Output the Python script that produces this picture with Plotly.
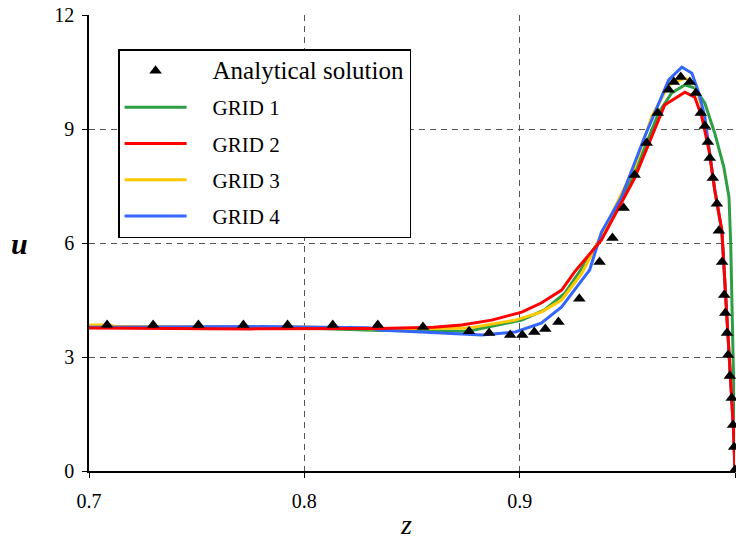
import plotly.graph_objects as go

# Analytical solution (triangles)
z_exact = [0.7084, 0.7298, 0.7508, 0.7717, 0.7922, 0.8132, 0.8341, 0.8551, 0.8765, 0.8858,
           0.8956, 0.9012, 0.9068, 0.9119, 0.9180, 0.9277, 0.9371, 0.9431, 0.9483, 0.9534,
           0.9590, 0.9641, 0.9692, 0.9716, 0.9748, 0.9790, 0.9818, 0.9841, 0.9860, 0.9874,
           0.9883, 0.9897, 0.9916, 0.9925, 0.9940, 0.9950, 0.9955, 0.9963, 0.9968, 0.9976,
           0.9985, 0.9991, 0.9996, 1.0]
u_exact = [3.84, 3.84, 3.84, 3.84, 3.84, 3.84, 3.84, 3.79, 3.68, 3.63,
           3.58, 3.58, 3.66, 3.74, 3.92, 4.53, 5.50, 6.13, 6.92, 7.79,
           8.63, 9.42, 10.03, 10.24, 10.37, 10.24, 9.95, 9.42, 9.08, 8.66,
           8.24, 7.71, 7.03, 6.32, 5.50, 4.63, 4.16, 3.63, 3.05, 2.50,
           1.92, 1.21, 0.63, 0.03]

# GRID 1 (green)
z_g1 = [0.70, 0.80, 0.835, 0.876, 0.901, 0.9115, 0.921, 0.9283, 0.938, 0.9534, 0.9645,
        0.9706, 0.9767, 0.9813, 0.986, 0.9906, 0.9948, 0.9972, 0.998, 0.9985, 0.999, 0.9995, 1.0]
u_g1 = [3.78, 3.76, 3.70, 3.68, 3.97, 4.24, 4.68, 5.29, 6.16, 7.84, 9.42,
        9.95, 10.16, 10.08, 9.68, 8.89, 8.00, 7.21, 6.00, 4.90, 3.70, 1.95, 0.0]

# GRID 2 (red)
z_g2 = [0.70, 0.775, 0.835, 0.86, 0.873, 0.887, 0.901, 0.910, 0.9195, 0.9255, 0.938,
        0.9534, 0.9673, 0.9767, 0.9813, 0.9846, 0.9879, 0.9906, 0.9939, 0.9948, 0.9965,
        0.998, 0.9993, 1.0]
u_g2 = [3.76, 3.74, 3.75, 3.78, 3.84, 3.97, 4.18, 4.42, 4.76, 5.24, 6.08,
        7.71, 9.63, 9.97, 9.84, 9.32, 8.45, 7.39, 6.34, 5.47, 3.71,
        2.39, 1.08, 0.0]

# GRID 3 (yellow)
z_g3 = [0.70, 0.71, 0.712, 0.80, 0.835, 0.876, 0.898, 0.910, 0.9195, 0.929, 0.938,
        0.9534, 0.9613, 0.9692, 0.9767, 0.9813, 0.9846, 0.9879, 0.9906, 0.9939, 0.9948,
        0.9965, 0.998, 0.9993, 1.0]
u_g3 = [3.84, 3.84, 3.80, 3.79, 3.74, 3.76, 3.97, 4.18, 4.50, 5.21, 6.21,
        8.00, 9.32, 10.16, 10.34, 10.21, 9.58, 8.50, 7.40, 6.30, 5.45,
        3.70, 2.40, 1.10, 0.0]

# GRID 4 (blue)
z_g4 = [0.70, 0.78, 0.83, 0.835, 0.8825, 0.898, 0.910, 0.9195, 0.929, 0.9325, 0.938,
        0.9473, 0.958, 0.9645, 0.9692, 0.9753, 0.980, 0.9832, 0.986, 0.9879, 0.9906,
        0.9939, 0.9948, 0.9965, 0.998, 0.9993, 1.0]
u_g4 = [3.78, 3.80, 3.77, 3.71, 3.58, 3.66, 3.89, 4.32, 5.03, 5.29, 6.29,
        7.21, 8.79, 9.68, 10.29, 10.63, 10.47, 9.95, 9.32, 8.50, 7.40,
        6.30, 5.45, 3.70, 2.40, 1.10, 0.0]

x_ticks = [0.7, 0.8, 0.9, 1.0]
x_tick_text = ["0.7", "0.8", "0.9", "1"]
y_ticks = [0, 3, 6, 9, 12]

FONT = "'Times New Roman', 'Liberation Serif', 'DejaVu Serif', serif"
PAD = "&nbsp;" * 4

fig = go.Figure()
lw = 3
fig.add_trace(go.Scatter(x=z_g1, y=u_g1, mode="lines", name=PAD + "GRID 1", legendrank=2,
                         legendgroup="g1", line=dict(color="#2e9e45", width=lw)))
fig.add_trace(go.Scatter(x=z_g3, y=u_g3, mode="lines", name=PAD + "GRID 3", legendrank=4,
                         legendgroup="g3", line=dict(color="#ffc800", width=lw)))
fig.add_trace(go.Scatter(x=z_g4, y=u_g4, mode="lines", name=PAD + "GRID 4", legendrank=5,
                         legendgroup="g4", line=dict(color="#3366ff", width=lw)))
fig.add_trace(go.Scatter(x=z_g2, y=u_g2, mode="lines", name=PAD + "GRID 2", legendrank=3,
                         legendgroup="g2", line=dict(color="#ff0000", width=lw)))
fig.add_trace(go.Scatter(x=z_exact, y=u_exact, mode="markers",
                         name=PAD + '<span style="font-size:25px">Analytical solution</span>',
                         legendrank=1, legendgroup="ex", cliponaxis=False,
                         marker=dict(symbol="triangle-up", size=11, color="black")))

fig.update_layout(
    width=736, height=543,
    margin=dict(l=89, r=1, t=15, b=72),
    plot_bgcolor="white", paper_bgcolor="white",
    font=dict(family=FONT, size=20, color="black"),
    showlegend=True,
    legend=dict(x=0.045, y=0.925, xanchor="left", yanchor="top",
                bgcolor="white", bordercolor="black", borderwidth=1.5,
                font=dict(family=FONT, size=21, color="black"),
                itemwidth=62, tracegroupgap=6, traceorder="grouped"),
    xaxis=dict(range=[0.7, 1.0], tickvals=x_ticks, ticktext=x_tick_text,
               showline=True, linecolor="black", linewidth=1.5,
               ticks="outside", ticklen=5, tickcolor="black", ticklabelstandoff=6,
               showgrid=True, gridcolor="#555555", gridwidth=1, griddash="6px,5px",
               zeroline=False, fixedrange=True),
    yaxis=dict(range=[0, 12], tickvals=y_ticks,
               showline=True, linecolor="black", linewidth=1.5,
               ticks="outside", ticklen=5, tickcolor="black", ticklabelstandoff=4,
               showgrid=True, gridcolor="#555555", gridwidth=1, griddash="6px,5px",
               zeroline=False, fixedrange=True),
    annotations=[
        dict(text="<b><i>u</i></b>", xref="paper", yref="paper", x=-0.107, y=0.5,
             xanchor="center", yanchor="middle", showarrow=False,
             font=dict(family=FONT, size=30, color="black")),
        dict(text="<i>z</i>", xref="paper", yref="paper", x=0.49, y=-0.118,
             xanchor="center", yanchor="middle", showarrow=False,
             font=dict(family=FONT, size=28, color="black")),
    ],
)

fig.write_html("out.html")
